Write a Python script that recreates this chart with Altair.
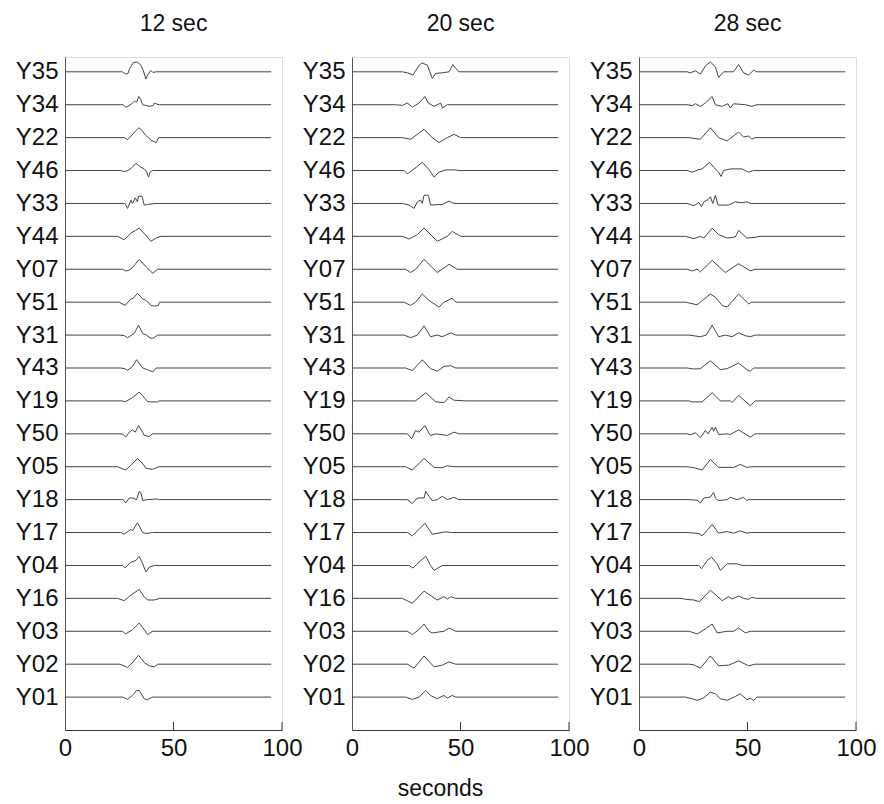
import altair as alt
import pandas as pd

NAMES = ["Y35", "Y34", "Y22", "Y46", "Y33", "Y44", "Y07", "Y51", "Y31", "Y43",
         "Y19", "Y50", "Y05", "Y18", "Y17", "Y04", "Y16", "Y03", "Y02", "Y01"]
PANELS = ["12 sec", "20 sec", "28 sec"]
X_TICKS = [0, 50, 100]
T_START = 0
T_END = 95

# (time in seconds, trace deflection), top trace first
P12 = [
    [(26.5, 0), (28, -0.07), (29, -0.05), (30, 0.12), (31.5, 0.28), (33, 0.3), (34, 0.26), (35, 0.2), (36, 0.05), (37.3, -0.22), (38, -0.1), (39.6, 0.04), (40.5, -0.02), (42, 0)],
    [(26.8, 0), (28, -0.08), (29.5, -0.03), (31.1, 0.05), (32, 0.1), (33, 0.08), (34, 0.25), (35, 0.15), (35.8, 0.0), (37, -0.02), (38.8, -0.05), (40.5, -0.03), (41.3, 0.05), (42.2, 0.02), (43.5, 0)],
    [(27.3, 0), (28.8, -0.06), (30.5, 0.05), (32.5, 0.2), (34, 0.3), (35.5, 0.22), (37, 0.08), (38.5, 0.0), (39.6, -0.08), (42, -0.15), (43.2, 0)],
    [(25.7, 0), (27.3, -0.03), (29, 0.0), (31.1, 0.1), (32.7, 0.22), (34, 0.15), (35, 0.1), (36.5, 0.05), (37.5, -0.02), (38.5, -0.2), (39.2, -0.05), (40.4, 0)],
    [(27.7, 0), (28.8, -0.15), (30.4, 0.1), (31.1, 0.0), (32.4, 0.17), (33.4, 0.05), (33.9, 0.22), (35.5, 0.22), (36.5, -0.05), (38, -0.03), (42, 0)],
    [(24.2, 0), (27.3, -0.1), (29, 0.0), (30.4, 0.1), (32.5, 0.18), (34.2, 0.25), (37, 0.05), (39.6, -0.15), (42, -0.05), (44.2, 0)],
    [(26.5, 0), (28, -0.05), (29.5, -0.03), (31.1, 0.05), (34.2, 0.3), (37, 0.1), (40.4, -0.12), (42.7, 0)],
    [(25, 0), (27.7, -0.1), (30.4, 0.1), (31.5, 0.12), (33.4, 0.27), (35.8, 0.1), (37.5, 0.05), (39.6, -0.1), (41.2, -0.12), (43, -0.1), (43.5, 0)],
    [(25.3, 0), (27.5, -0.02), (28.8, -0.08), (31.9, 0.05), (33.9, 0.3), (35.8, 0.05), (37.5, 0.0), (39.6, -0.1), (41, -0.08), (42.7, 0)],
    [(25.7, 0), (27.5, -0.02), (28.8, -0.07), (31.1, 0.05), (33, 0.25), (35.8, 0.0), (38, -0.05), (40.4, -0.12), (42, 0)],
    [(26.5, 0), (27.7, -0.03), (31.1, 0.1), (34.2, 0.27), (36.5, 0.1), (38, -0.02), (39.6, -0.03), (42.7, -0.03), (43.3, 0)],
    [(26.5, 0), (28, -0.1), (29.6, 0.05), (31.1, 0.12), (32.4, 0.05), (33.9, 0.25), (35.8, 0.05), (36.5, -0.05), (38.8, -0.08), (40.4, 0)],
    [(24.2, 0), (28, -0.1), (30.5, 0.05), (33.4, 0.25), (36, 0.08), (37.3, -0.05), (40.4, -0.08), (43.2, 0)],
    [(26.8, 0), (28, -0.1), (29.6, 0.05), (31.1, 0.05), (33, 0.0), (34.2, 0.25), (35, 0.2), (35.8, -0.03), (38, 0.0), (42, 0.02), (43.5, 0)],
    [(25.7, 0), (27.3, -0.05), (30.4, 0.1), (31.1, 0.05), (33.4, 0.3), (35.8, 0.0), (37.3, -0.03), (40.4, 0)],
    [(26.5, 0), (27.7, -0.07), (30.4, 0.1), (32.7, 0.15), (34.2, 0.28), (35.8, 0.05), (37.3, -0.2), (38.8, -0.05), (41.2, 0)],
    [(24.2, 0), (27.3, -0.07), (30.4, 0.1), (34.2, 0.27), (36.5, 0.05), (38, -0.05), (41.2, -0.05), (43.5, 0)],
    [(26.5, 0), (28, -0.08), (31.1, 0.05), (34.2, 0.25), (36.5, 0.05), (38, -0.1), (40.4, 0)],
    [(25.3, 0), (28.8, -0.1), (31.1, 0.05), (33.9, 0.27), (36.5, 0.05), (38.8, -0.05), (41.2, -0.08), (42.7, 0)],
    [(26.5, 0), (28.8, -0.07), (31.1, 0.05), (33, 0.2), (34.2, 0.2), (36.5, -0.05), (38, -0.08), (40.4, 0)],
]

P20 = [
    [(23.2, 0), (25.5, -0.03), (28.1, -0.1), (30.9, 0.2), (32.4, 0.27), (34.7, 0.2), (37, -0.2), (38.5, -0.05), (41.6, -0.03), (44.7, 0.0), (46.5, 0.22), (48.5, 0.05), (49.3, 0)],
    [(20, 0), (23.2, -0.02), (25.5, 0.05), (27.8, -0.07), (30.9, 0.05), (33.6, 0.25), (35.2, 0.05), (37.8, -0.05), (40.9, 0.05), (41.6, -0.1), (43.9, 0)],
    [(23.2, 0), (27, -0.05), (30.1, 0.1), (33.2, 0.25), (37, 0.0), (40.1, -0.15), (43.9, 0.0), (47, 0.1), (50.1, 0)],
    [(24, 0), (25.5, -0.1), (28.6, 0.05), (32.4, 0.25), (35.5, 0.03), (37.8, -0.2), (40.1, -0.05), (43.2, 0.02), (47.8, 0.02), (49, 0)],
    [(23.2, 0), (26.3, -0.05), (28.6, -0.15), (30.1, 0.05), (31.6, 0.1), (32.4, 0.0), (33.2, 0.25), (35.2, 0.25), (36.2, -0.05), (41.6, -0.03), (44.7, 0.07), (47, 0)],
    [(23.2, 0), (26.3, -0.08), (30.1, 0.05), (33.2, 0.25), (39.3, -0.15), (43.9, 0.0), (46.2, 0.15), (50.1, 0)],
    [(24.7, 0), (27, -0.1), (29.3, 0.0), (33.2, 0.3), (39.3, -0.1), (44.7, 0.15), (48.5, 0)],
    [(24, 0), (27, -0.1), (29.3, 0.0), (32.4, 0.25), (35.5, 0.05), (40.1, -0.15), (42.4, 0.0), (46.2, 0.12), (47.8, 0)],
    [(24, 0), (27, -0.08), (30.1, 0.0), (33.2, 0.28), (36.2, -0.05), (39.3, 0.0), (41.6, -0.05), (45.5, 0.07), (47.8, 0)],
    [(24.7, 0), (27.8, -0.08), (32.4, 0.25), (36.2, -0.02), (39.3, -0.1), (42.4, 0.05), (45.5, 0.07), (47.8, 0)],
    [(29.3, 0), (34, 0.25), (38.6, -0.03), (42.4, -0.05), (44.7, 0.12), (47, 0.02), (52.4, 0)],
    [(25.5, 0), (27.5, -0.15), (29.3, 0.1), (30.9, 0.05), (33.6, 0.25), (35.2, 0.05), (36.2, -0.05), (38.6, 0), (43.9, -0.05), (47, 0.05), (49.3, 0)],
    [(24.7, 0), (27.8, -0.1), (33.2, 0.25), (37.8, -0.02), (41.6, -0.03), (43.9, 0.03), (47, 0)],
    [(25.5, 0), (27.8, -0.12), (30.1, 0.05), (33.2, 0.05), (34, 0.25), (35.5, 0.1), (37, -0.03), (39.3, 0.0), (41.6, 0.1), (43.9, 0.0), (47, 0.07), (49.3, 0)],
    [(25.5, 0), (27.8, -0.1), (30.9, 0.1), (33.6, 0.28), (37, -0.05), (43.2, 0.02), (46.2, 0)],
    [(26.3, 0), (28.1, -0.08), (30.9, 0.1), (34, 0.28), (36.2, 0.0), (37.8, -0.15), (41.6, 0)],
    [(23.2, 0), (27.8, -0.15), (33.2, 0.22), (39.3, -0.05), (42.4, 0.05), (43.9, -0.02), (45.5, 0.05), (47.8, 0)],
    [(25.5, 0), (27.8, -0.1), (30.9, 0.05), (33.2, 0.22), (35.5, 0.0), (37, -0.05), (42.4, 0.0), (44.7, 0.1), (47.8, 0)],
    [(25.5, 0), (28.6, -0.12), (33.2, 0.25), (37.8, -0.08), (41.6, -0.03), (44.7, 0.07), (47.8, 0)],
    [(24.7, 0), (27.8, -0.07), (30.9, 0.0), (34, 0.2), (36.2, 0.05), (39.3, -0.05), (42.4, 0.05), (43.9, -0.03), (46.2, 0.05), (47.8, 0)],
]

P28 = [
    [(22.2, 0), (23.7, -0.03), (26, 0.03), (28.3, -0.07), (30.6, 0.18), (32.9, 0.3), (35.2, 0.15), (36.7, -0.17), (39, 0.0), (43.6, 0.0), (45.9, 0.22), (48.2, -0.03), (50.5, -0.1), (52.8, 0.05), (54.3, 0)],
    [(22.2, 0), (24.5, -0.03), (26, 0.03), (28.3, -0.05), (30.6, 0.05), (33.7, 0.25), (35.2, 0.0), (38.3, -0.05), (41, 0.03), (42.1, -0.1), (43.6, 0.03), (49, 0.0), (52, -0.05), (54.3, 0)],
    [(23, 0), (28.3, -0.05), (32.9, 0.3), (36.7, 0.0), (40.6, -0.1), (45.9, 0.17), (48.2, 0.02), (50.5, 0.05), (52, -0.05), (53.5, 0)],
    [(22.2, 0), (24.5, -0.05), (27.6, 0.03), (29.1, 0.05), (32.5, 0.25), (34.4, 0.1), (36.7, -0.05), (37.8, -0.18), (39, 0.0), (42.1, 0.05), (47.4, 0.05), (50.5, -0.05), (52.8, 0)],
    [(22.2, 0), (25.3, -0.07), (27.6, 0.03), (28.8, -0.1), (29.9, 0.05), (31.8, 0.12), (32.9, 0.2), (34, 0.0), (35.2, 0.25), (36.4, -0.05), (41.3, -0.05), (44.4, 0.05), (47.4, 0.02), (49.7, 0.05), (51.3, 0)],
    [(21.4, 0), (25.3, -0.07), (28.3, 0.0), (29.9, -0.05), (33.7, 0.25), (36.7, 0.05), (40.6, -0.05), (44.4, -0.02), (45.9, 0.18), (49.7, -0.05), (53.5, -0.03), (55.8, 0)],
    [(22.2, 0), (24.5, -0.05), (26.8, 0.0), (28.3, -0.08), (33.7, 0.27), (39.8, -0.1), (45.9, 0.17), (51.3, -0.05), (53.5, 0)],
    [(21.4, 0), (26.8, -0.08), (32.9, 0.25), (35.2, 0.15), (38.3, -0.1), (40.6, -0.15), (45.9, 0.25), (50.5, -0.05), (52, 0.0), (53.5, 0)],
    [(23, 0), (28.3, -0.05), (31, 0.0), (33.7, 0.3), (36.7, -0.05), (39.8, 0.0), (42.9, -0.05), (45.9, 0.07), (49, -0.02), (51.3, -0.05), (53.5, 0)],
    [(22.2, 0), (25.3, -0.03), (28.3, -0.02), (32.9, 0.22), (37.5, -0.05), (40.6, -0.02), (45.9, 0.15), (49.7, -0.05), (51.3, -0.1), (52.8, 0)],
    [(23, 0), (24.5, -0.03), (29.1, -0.03), (33.7, 0.25), (37.5, 0.0), (42.1, 0.0), (42.9, -0.05), (45.9, 0.17), (51.3, -0.15), (53.5, 0)],
    [(22.2, 0), (23.7, -0.03), (26, 0.03), (28.3, -0.12), (30.6, 0.1), (31.8, 0.0), (33.7, 0.2), (34.4, 0.08), (35.2, 0.2), (36.7, -0.02), (40.6, 0.0), (42.1, -0.02), (45.9, 0.12), (51.3, -0.1), (53.5, 0)],
    [(22.2, 0), (25.3, -0.03), (29.1, -0.1), (32.9, 0.22), (36.7, -0.02), (43.6, -0.02), (46.7, 0.07), (49.7, -0.02), (52, 0)],
    [(23.7, 0), (26.8, -0.02), (28.3, -0.1), (29.9, 0.05), (32.9, 0.08), (34.4, 0.22), (35.2, 0.05), (36.7, -0.03), (40.6, 0.0), (42.1, 0.07), (45.2, 0.0), (48.2, 0.07), (49.7, -0.03), (50.5, 0)],
    [(22.2, 0), (27.6, -0.03), (29.1, -0.1), (31.8, 0.1), (33.7, 0.25), (36.7, -0.02), (40.6, 0.03), (43.6, -0.02), (46.7, 0.05), (49.7, -0.02), (51.3, 0)],
    [(23, 0), (27.6, 0.0), (28.8, -0.1), (31.4, 0.15), (33.4, 0.25), (36, 0.05), (37.5, -0.15), (40.6, 0.05), (45.2, 0.05), (47.4, 0.0), (50.5, 0)],
    [(19.9, 0), (21.4, -0.03), (25.3, -0.05), (27.9, -0.1), (32.9, 0.25), (38.3, -0.07), (41.3, 0.05), (42.9, -0.02), (45.9, 0.07), (48.2, 0.0), (50.5, -0.03), (52, 0.03), (54.3, 0)],
    [(23, 0), (26.8, -0.08), (30.6, 0.07), (33.7, 0.22), (36, -0.05), (40.6, 0.0), (43.6, 0.0), (45.9, 0.1), (49, -0.05), (51.3, 0)],
    [(23, 0), (25.3, -0.02), (28.3, -0.12), (32.9, 0.25), (36.7, -0.05), (41.3, -0.03), (45.9, 0.1), (50.5, -0.05), (53.5, 0)],
    [(21.4, 0), (24.5, -0.05), (26.8, -0.1), (29.9, -0.02), (32.9, 0.15), (35.2, 0.1), (37.5, -0.05), (40.6, -0.1), (44.4, 0.02), (46.7, 0.1), (49.7, -0.08), (51.3, -0.03), (52.8, -0.1), (54.3, 0)],
]

FONT = "Liberation Sans"
W, H = 217, 673
N = len(NAMES)
Y_DOMAIN = [0, N + 0.45]

labels_bottom_up = list(reversed(NAMES))
label_expr = ("datum.value >= 1 && datum.value <= %d ? %s[datum.value - 1] : ''"
              % (N, "[" + ",".join("'%s'" % s for s in labels_bottom_up) + "]"))


def frame(traces):
    rows = []
    for i, (name, pts) in enumerate(zip(NAMES, traces)):
        level = N - i
        for t, a in [(T_START, 0)] + pts + [(T_END, 0)]:
            rows.append({"trace": name, "t": t, "v": level + a})
    return pd.DataFrame(rows)


tick_df = pd.DataFrame({"t": X_TICKS[1:]})


def panel(traces, title, xtitle):
    xaxis_kw = dict(values=X_TICKS, ticks=False, labelFontSize=24, labelFont=FONT,
                    labelColor="#111", labelPadding=6, domainColor="#333",
                    grid=False, labelFlush=False)
    if xtitle:
        xaxis_kw.update(title=xtitle, titleFontSize=23, titleFont=FONT,
                        titleFontWeight="normal", titleColor="#111", titlePadding=17,
                        titleX=88)
    else:
        xaxis_kw.update(title=None)
    x = alt.X("t:Q", scale=alt.Scale(domain=[0, 100], nice=False),
              axis=alt.Axis(**xaxis_kw))
    y = alt.Y("v:Q", scale=alt.Scale(domain=Y_DOMAIN, nice=False, zero=False),
              axis=alt.Axis(values=list(range(1, N + 1)), labelExpr=label_expr,
                            ticks=False, labelFontSize=24, labelFont=FONT,
                            labelColor="#111", labelPadding=7, domainColor="#555",
                            grid=False, title=None))
    lines = alt.Chart(frame(traces)).mark_line(
        color="#444", strokeWidth=1, interpolate="linear"
    ).encode(x=x, y=y, detail="trace:N")
    ticks = alt.Chart(tick_df).mark_rule(color="#333", strokeWidth=1).encode(
        x=alt.X("t:Q", scale=alt.Scale(domain=[0, 100], nice=False)),
        y=alt.value(H), y2=alt.value(H - 8)
    )
    return alt.layer(lines, ticks).properties(
        width=W, height=H,
        title=alt.Title(title, fontSize=23, font=FONT, fontWeight="normal",
                        color="#111", frame="group", anchor="middle", offset=21)
    )


chart = alt.hconcat(
    panel(P12, PANELS[0], None),
    panel(P20, PANELS[1], "seconds"),
    panel(P28, PANELS[2], None),
    spacing=70, bounds="flush"
).properties(
    padding={"left": 14, "top": 12, "right": 5, "bottom": 5}
).configure_view(stroke=None).configure(background="white")

chart.save("out.html", embed_options={"renderer": "svg", "actions": False})
